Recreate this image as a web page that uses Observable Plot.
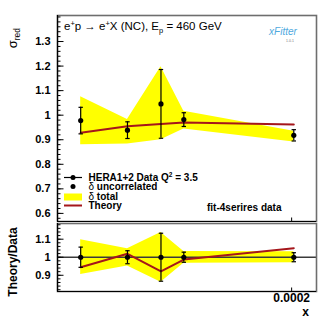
<!DOCTYPE html>
<html><head><meta charset="utf-8">
<script src="https://cdn.jsdelivr.net/npm/d3@7"></script>
<script src="https://cdn.jsdelivr.net/npm/@observablehq/plot@0.6"></script>
<style>
body{margin:0;background:#fff}
#c{position:relative;width:332px;height:323px;overflow:hidden;background:#fff;font-family:"Liberation Sans",Arial,sans-serif}
#c svg{position:absolute;left:0}
</style>
</head><body><div id="c"></div>
<script>
// ---- data ----
const xValues      = [0.000123, 0.000137, 0.000148, 0.000156, 0.000201];
const dataValues   = [0.978, 0.939, 1.046, 0.982, 0.918];
const uncorrErr    = [0.054, 0.034, 0.140, 0.028, 0.023];
const totalLow     = [0.880, 0.883, 0.900, 0.944, 0.891];
const totalHigh    = [1.075, 0.982, 1.197, 1.016, 0.935];
const theoryValues = [0.928, 0.955, 0.964, 0.970, 0.962];
// ratio panel
const ratioErr     = [0.056, 0.036, 0.133, 0.028, 0.025];
const ratioLow     = [0.904, 0.952, 0.861, 0.967, 0.969];
const ratioHigh    = [1.097, 1.047, 1.137, 1.032, 1.030];
const ratioTheory  = [0.944, 1.019, 0.922, 0.987, 1.050];
// axes
const xTicks       = [0.0002];
const topMajor     = [0.6, 0.7, 0.8, 0.9, 1.0, 1.1, 1.2, 1.3];
const botMajor     = [0.9, 1.0, 1.1];
const X_DOMAIN     = [0.0001166, 0.0002118];
const TOP_Y        = [0.567, 1.406];
const BOT_Y        = [0.81, 1.187];

const topMinor = d3.range(0.58, 1.401, 0.02).map(v => +v.toFixed(2));
const botMinor = d3.range(0.82, 1.181, 0.02).map(v => +v.toFixed(2));

const rows = xValues.map((x, i) => ({
  x, data: dataValues[i], err: uncorrErr[i], lo: totalLow[i], hi: totalHigh[i], th: theoryValues[i],
  rErr: ratioErr[i], rLo: ratioLow[i], rHi: ratioHigh[i], rTh: ratioTheory[i]
}));

const FONT = '"Liberation Sans", Arial, sans-serif';
const hTick = len => ({draw(ctx){ ctx.moveTo(0,0); ctx.lineTo(len,0); }});
const vTick = len => ({draw(ctx){ ctx.moveTo(0,0); ctx.lineTo(0,-len); }});
const cap = {draw(ctx){ ctx.moveTo(-2.2,0); ctx.lineTo(2.2,0); }};
const fmt = d => d === 1 ? "1" : d.toFixed(1);

function tickMarks(majors, minors, yd) {
  return [
    Plot.dot(minors, {x: () => X_DOMAIN[0], y: d => d, symbol: hTick(3), r: 1, fill: "none", stroke: "black", strokeWidth: 1}),
    Plot.dot(majors, {x: () => X_DOMAIN[0], y: d => d, symbol: hTick(6), r: 1, fill: "none", stroke: "black", strokeWidth: 1}),
    Plot.dot(xTicks, {x: d => d, y: () => yd[0], symbol: vTick(4), r: 1, fill: "none", stroke: "black", strokeWidth: 1}),
    Plot.axisY({ticks: majors, tickSize: 0, tickPadding: 7, tickFormat: fmt, fontWeight: "bold", fontSize: 11, label: null})
  ];
}
function frameMarks(yd) {
  return [
    Plot.frame({stroke: "#6e6e6e", strokeWidth: 1.6}),
    Plot.ruleX([X_DOMAIN[0]], {stroke: "black", strokeWidth: 1.2}),
    Plot.ruleY([yd[0]], {stroke: "black", strokeWidth: 1.2})
  ];
}

const topPlot = Plot.plot({
  width: 332, height: 222, marginTop: 15, marginBottom: 1, marginLeft: 57, marginRight: 16,
  style: {fontFamily: FONT, fontSize: "11px", background: "transparent", color: "black"},
  x: {type: "log", domain: X_DOMAIN, axis: null},
  y: {domain: TOP_Y, axis: null},
  marks: [
    Plot.areaY(rows, {x: "x", y1: "lo", y2: "hi", fill: "#ffff00"}),
    Plot.line(rows, {x: "x", y: "th", stroke: "#a5161b", strokeWidth: 2}),
    Plot.ruleX(rows, {x: "x", y1: d => d.data - d.err, y2: d => d.data + d.err, stroke: "black", strokeWidth: 1.2}),
    Plot.dot(rows, {x: "x", y: d => d.data + d.err, symbol: cap, r: 1, fill: "none", stroke: "black", strokeWidth: 1.2}),
    Plot.dot(rows, {x: "x", y: d => d.data - d.err, symbol: cap, r: 1, fill: "none", stroke: "black", strokeWidth: 1.2}),
    Plot.dot(rows, {x: "x", y: "data", r: 2.6, fill: "black"}),
    ...frameMarks(TOP_Y),
    ...tickMarks(topMajor, topMinor, TOP_Y)
  ]
});
topPlot.style.top = "0px";

const botPlot = Plot.plot({
  width: 332, height: 101, marginTop: 1, marginBottom: 32, marginLeft: 57, marginRight: 16,
  style: {fontFamily: FONT, fontSize: "11px", background: "transparent", color: "black", overflow: "visible"},
  x: {type: "log", domain: X_DOMAIN, axis: null},
  y: {domain: BOT_Y, axis: null},
  marks: [
    Plot.areaY(rows, {x: "x", y1: "rLo", y2: "rHi", fill: "#ffff00"}),
    Plot.ruleY([1], {stroke: "#3a3a3a", strokeWidth: 1.5}),
    Plot.line(rows, {x: "x", y: "rTh", stroke: "#a5161b", strokeWidth: 2}),
    Plot.ruleX(rows, {x: "x", y1: d => 1 - d.rErr, y2: d => 1 + d.rErr, stroke: "black", strokeWidth: 1.2}),
    Plot.dot(rows, {x: "x", y: d => 1 + d.rErr, symbol: cap, r: 1, fill: "none", stroke: "black", strokeWidth: 1.2}),
    Plot.dot(rows, {x: "x", y: d => 1 - d.rErr, symbol: cap, r: 1, fill: "none", stroke: "black", strokeWidth: 1.2}),
    Plot.dot(rows, {x: "x", y: () => 1, r: 2.6, fill: "black"}),
    ...frameMarks(BOT_Y),
    ...tickMarks(botMajor, botMinor, BOT_Y),
    Plot.axisX({ticks: xTicks, tickSize: 0, tickPadding: 2, tickFormat: d => "0.0002", fontWeight: "bold", fontSize: 12, label: null})
  ]
});
botPlot.style.top = "222px";

const c = document.getElementById("c");
c.appendChild(topPlot);
c.appendChild(botPlot);

// ---- annotations ----
function rich(g, x, y, parts, opts = {}) {
  const t = g.append("text").attr("x", x).attr("y", y)
    .attr("font-family", FONT).attr("font-size", opts.size || 11)
    .attr("font-weight", opts.weight || "normal")
    .attr("text-anchor", opts.anchor || "start")
    .attr("fill", opts.fill || "black");
  if (opts.transform) t.attr("transform", opts.transform);
  let shift = 0;
  for (const p of parts) {
    const s = t.append("tspan").text(p.t);
    let target = p.sup ? -4 : p.sub ? 3 : 0;
    if (target !== shift) { s.attr("dy", target - shift); shift = target; }
    if (p.sup || p.sub) s.attr("font-size", (opts.size || 11) * 0.65);
    if (p.w) s.attr("font-weight", p.w);
  }
  return t;
}

const ts = d3.select(topPlot);
rich(ts, 64, 30, [{t: "e"}, {t: "+", sup: 1}, {t: "p \u2192 e"}, {t: "+", sup: 1}, {t: "X (NC), E"}, {t: "p", sub: 1}, {t: " = 460 GeV"}], {size: 11.5});

// sigma_red
const sg = ts.append("g").attr("transform", "translate(17,28) rotate(-90)");
rich(sg, 0, 0, [{t: "\u03c3"}, {t: "red", sub: 1}], {size: 13, anchor: "end"});

// xFitter logo
ts.append("text").attr("x", 283).attr("y", 35).attr("font-family", FONT).attr("font-size", 10)
  .attr("font-style", "italic").attr("fill", "#4fa9de").text("xFitter");
ts.append("text").attr("x", 290).attr("y", 42).attr("font-family", FONT).attr("font-size", 3.5)
  .attr("fill", "#777").text("1.0.1");

// legend
const lg = ts.append("g");
lg.append("line").attr("x1", 64).attr("x2", 82).attr("y1", 177.5).attr("y2", 177.5).attr("stroke", "black").attr("stroke-width", 1.2);
lg.append("circle").attr("cx", 73).attr("cy", 177.5).attr("r", 2.5).attr("fill", "black");
lg.append("circle").attr("cx", 73).attr("cy", 186.5).attr("r", 2.5).attr("fill", "black");
lg.append("rect").attr("x", 64).attr("y", 193.5).attr("width", 18).attr("height", 7).attr("fill", "#ffff00");
lg.append("line").attr("x1", 64).attr("x2", 82).attr("y1", 205.5).attr("y2", 205.5).attr("stroke", "#a5161b").attr("stroke-width", 2);
rich(lg, 88.5, 181, [{t: "HERA1+2 Data Q"}, {t: "2", sup: 1}, {t: " = 3.5"}], {size: 10, weight: "bold"});
rich(lg, 88.5, 190.3, [{t: "\u03b4", w: "normal"}, {t: " uncorrelated"}], {size: 10, weight: "bold"});
rich(lg, 88.5, 199.7, [{t: "\u03b4", w: "normal"}, {t: " total"}], {size: 10, weight: "bold"});
rich(lg, 88.5, 209, [{t: "Theory"}], {size: 10, weight: "bold"});
rich(lg, 207, 211, [{t: "fit-4serires data"}], {size: 10, weight: "bold"});

// bottom panel labels
const bs = d3.select(botPlot);
rich(bs, 0, 0, [{t: "Theory/Data"}], {size: 12, weight: "bold", anchor: "middle", transform: "translate(17,40) rotate(-90)"});
rich(bs, 309, 94, [{t: "x"}], {size: 12, weight: "bold", anchor: "end"});
</script>
</body></html>
